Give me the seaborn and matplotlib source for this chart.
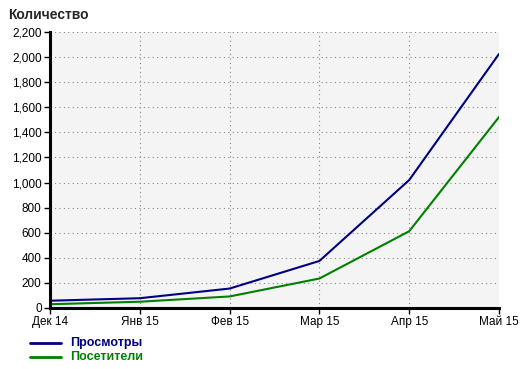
import matplotlib
matplotlib.use("Agg")
import matplotlib.pyplot as plt
import seaborn as sns
import pandas as pd
from matplotlib.ticker import FuncFormatter, MultipleLocator

months = ["Дек 14", "Янв 15", "Фев 15", "Мар 15", "Апр 15", "Май 15"]
views = [58, 78, 155, 375, 1020, 2025]
visitors = [30, 50, 92, 235, 612, 1522]
series_names = ["Просмотры", "Посетители"]
colors = ["#000080", "#008000"]

df = pd.DataFrame({
    "x": list(range(len(months))) * 2,
    "value": views + visitors,
    "series": [series_names[0]] * len(months) + [series_names[1]] * len(months),
})

sns.set_style("white")
plt.rcParams["font.family"] = ["Liberation Sans", "DejaVu Sans"]

fig = plt.figure(figsize=(5.31, 3.69), dpi=100)
ax = fig.add_axes([50/531, 1 - 308/369, 449/531, 276/369])
ax.set_facecolor("#f4f4f4")

sns.lineplot(data=df, x="x", y="value", hue="series", palette=colors,
             linewidth=1.5, ax=ax, legend=False)

ax.set_xlim(0, len(months) - 1)
ax.set_ylim(0, 2200)
ax.yaxis.set_major_locator(MultipleLocator(200))
ax.yaxis.set_major_formatter(FuncFormatter(lambda v, p: f"{int(v):,}"))
ax.set_xticks(range(len(months)))
ax.set_xticklabels(months)
ax.set_xlabel("")
ax.set_ylabel("")
ax.grid(True, linestyle=(0, (1, 3)), color="#888888", linewidth=0.8)
for s in ["top", "right"]:
    ax.spines[s].set_visible(False)
for s in ["left", "bottom"]:
    ax.spines[s].set_linewidth(2.2)
    ax.spines[s].set_color("black")
ax.tick_params(axis="both", direction="out", length=4, width=1, colors="black",
               labelsize=8.5, pad=2, left=True, bottom=True)

fig.text(8/531, 1 - 15/369, "Количество", fontsize=10, fontweight="bold", va="center", ha="left")

for i, (name, c) in enumerate(zip(series_names, colors)):
    y = 1 - (343 + i * 14) / 369
    fig.add_artist(plt.Line2D([30/531, 61/531], [y, y], color=c, linewidth=2, transform=fig.transFigure))
    fig.text(70/531, y, name, color=c, fontsize=9, fontweight="bold", va="center", ha="left")

fig.savefig("out.png", dpi=100)
